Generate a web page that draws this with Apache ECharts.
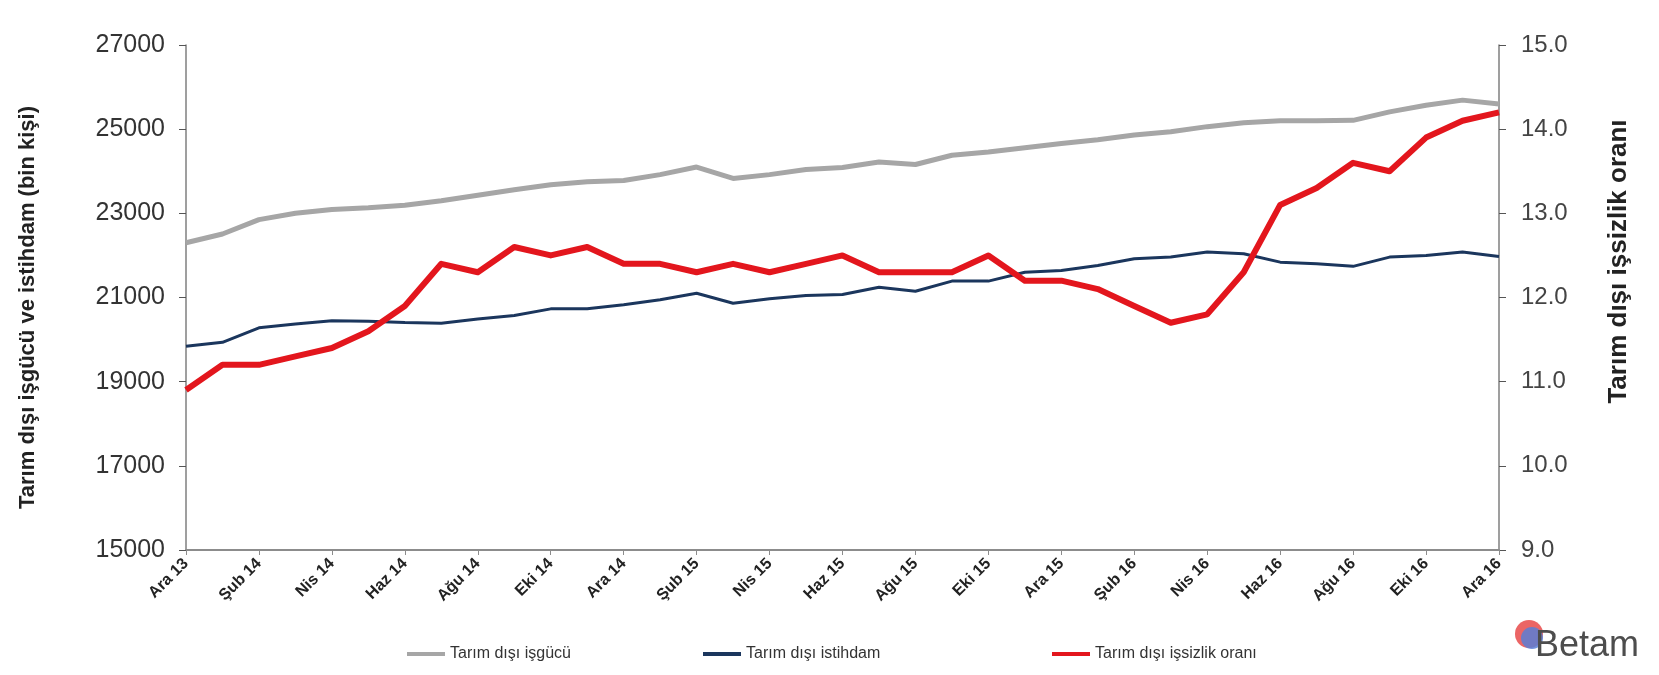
<!DOCTYPE html>
<html>
<head>
<meta charset="utf-8">
<script src="https://cdn.jsdelivr.net/npm/echarts@6.0.0/dist/echarts.min.js"></script>
<style>
  html, body { margin: 0; padding: 0; background: #fff; }
  #chart { width: 1659px; height: 675px; }
</style>
</head>
<body>
<div id="chart"></div>
<script>
// aylar (Ara 13 - Ara 16)
const categories = ['Ara 13', 'Oca 14', 'Şub 14', 'Mar 14', 'Nis 14', 'May 14', 'Haz 14', 'Tem 14', 'Ağu 14', 'Eyl 14', 'Eki 14', 'Kas 14',
  'Ara 14', 'Oca 15', 'Şub 15', 'Mar 15', 'Nis 15', 'May 15', 'Haz 15', 'Tem 15', 'Ağu 15', 'Eyl 15', 'Eki 15', 'Kas 15',
  'Ara 15', 'Oca 16', 'Şub 16', 'Mar 16', 'Nis 16', 'May 16', 'Haz 16', 'Tem 16', 'Ağu 16', 'Eyl 16', 'Eki 16', 'Kas 16', 'Ara 16']

// bin kişi
const isgucu = [22300, 22510, 22850, 23000, 23090, 23130, 23190, 23300, 23430, 23560, 23680, 23750,
  23780, 23920, 24100, 23830, 23920, 24040, 24090, 24220, 24160, 24380, 24460, 24560,
  24660, 24750, 24860, 24940, 25060, 25150, 25200, 25200, 25210, 25410, 25570, 25690, 25600]

const istihdam = [19840, 19935, 20280, 20370, 20450, 20435, 20405, 20390, 20490, 20570, 20730, 20730,
  20830, 20945, 21100, 20865, 20970, 21050, 21070, 21245, 21150, 21390, 21390, 21600,
  21640, 21760, 21920, 21960, 22080, 22040, 21840, 21800, 21740, 21960, 22000, 22080, 21975]

// yüzde
const issizlik = [10.9, 11.2, 11.2, 11.3, 11.4, 11.6, 11.9, 12.4, 12.3, 12.6, 12.5, 12.6,
  12.4, 12.4, 12.3, 12.4, 12.3, 12.4, 12.5, 12.3, 12.3, 12.3, 12.5, 12.2,
  12.2, 12.1, 11.9, 11.7, 11.8, 12.3, 13.1, 13.3, 13.6, 13.5, 13.9, 14.1, 14.2]

const seriesNames = ['Tarım dışı işgücü', 'Tarım dışı istihdam', 'Tarım dışı işsizlik oranı']
const seriesColors = ['#a6a6a6', '#1b365d', '#e3161d']

const font = '"Liberation Sans", Arial, sans-serif'

const myChart = echarts.init(document.getElementById('chart'))

// her lejant öğesi ayrı konumda
const legendLefts = [402, 698, 1047]
const legends = seriesNames.map((n, i) => ({
  left: legendLefts[i],
  top: 641,
  itemWidth: 38,
  itemHeight: 4,
  icon: 'rect',
  textStyle: { fontSize: 16, color: '#333', fontFamily: font },
  data: [n]
}))

const option = {
  animation: false,
  textStyle: { fontFamily: font },
  grid: {
    left: 186,
    right: 160,
    top: 45,
    bottom: 125
  },
  legend: legends,
  xAxis: {
    type: 'category',
    boundaryGap: false,
    data: categories,
    axisLine: { lineStyle: { color: '#8c8c8c', width: 2 } },
    axisTick: { interval: 1, length: 5, lineStyle: { color: '#8c8c8c' } },
    axisLabel: {
      interval: 1,
      rotate: 45,
      margin: 11,
      fontSize: 16,
      fontWeight: 'bold',
      color: '#222',
      fontFamily: font
    }
  },
  yAxis: [
    {
      type: 'value',
      min: 15000,
      max: 27000,
      interval: 2000,
      name: 'Tarım dışı işgücü ve istihdam (bin kişi)',
      nameLocation: 'middle',
      nameGap: 147,
      nameTextStyle: { fontSize: 22, fontWeight: 'bold', color: '#222', fontFamily: font, padding: [0, 20, 0, 0] },
      splitLine: { show: false },
      axisLine: { show: true, lineStyle: { color: '#7f7f7f', width: 1.5 } },
      axisTick: { show: true, length: 7, lineStyle: { color: '#555' } },
      axisLabel: {
        fontSize: 25,
        color: '#333',
        margin: 21,
        fontFamily: font,
        formatter: function (v) { return String(v) }
      }
    },
    {
      type: 'value',
      min: 9,
      max: 15,
      interval: 1,
      name: 'Tarım dışı işsizlik oranı',
      nameLocation: 'middle',
      nameRotate: 90,
      nameGap: 107,
      nameTextStyle: { fontSize: 26, fontWeight: 'bold', color: '#222', fontFamily: font, padding: [0, 0, 0, 72] },
      splitLine: { show: false },
      axisLine: { show: true, lineStyle: { color: '#7f7f7f', width: 1.5 } },
      axisTick: { show: true, length: 7, lineStyle: { color: '#555' } },
      axisLabel: {
        fontSize: 24,
        color: '#444',
        margin: 22,
        fontFamily: font,
        formatter: function (v) { return v.toFixed(1) }
      }
    }
  ],
  series: [
    {
      name: seriesNames[0],
      type: 'line',
      data: isgucu,
      yAxisIndex: 0,
      symbol: 'none',
      color: seriesColors[0],
      lineStyle: { color: seriesColors[0], width: 5 }
    },
    {
      name: seriesNames[1],
      type: 'line',
      data: istihdam,
      yAxisIndex: 0,
      symbol: 'none',
      color: seriesColors[1],
      lineStyle: { color: seriesColors[1], width: 3 }
    },
    {
      name: seriesNames[2],
      type: 'line',
      data: issizlik,
      yAxisIndex: 1,
      symbol: 'none',
      color: seriesColors[2],
      lineStyle: { color: seriesColors[2], width: 6, join: 'round' }
    }
  ],
  // Betam logosu
  graphic: [
    {
      type: 'group',
      left: 1515,
      top: 620,
      children: [
        { type: 'circle', shape: { cx: 16, cy: 18, r: 14 }, style: { fill: '#e84a4a', opacity: 0.85 } },
        { type: 'circle', shape: { cx: 19, cy: 22, r: 11 }, style: { fill: '#5b7fd6', opacity: 0.85 } },
        { type: 'text', x: 22, y: 12, style: { text: 'Betam', fontSize: 36, fill: '#4d4d4d', fontFamily: font } }
      ]
    }
  ]
}

myChart.setOption(option)
window.addEventListener('resize', () => {
  myChart?.resize()
})
</script>
</body>
</html>
